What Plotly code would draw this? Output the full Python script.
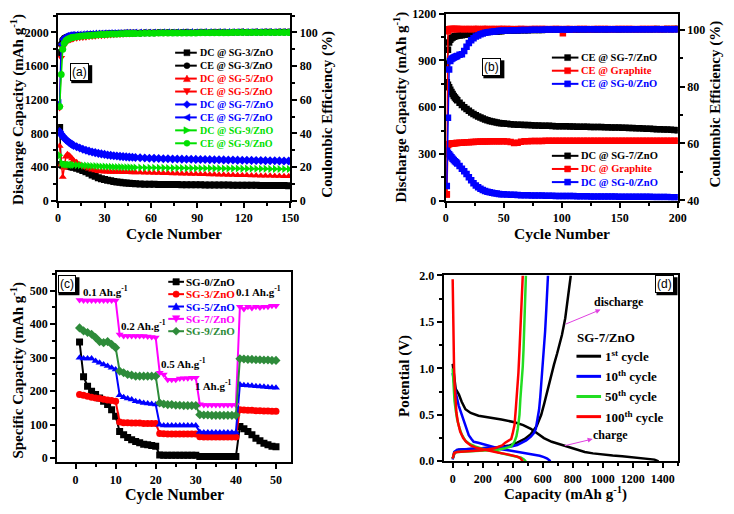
import plotly.graph_objects as go

W, H = 734, 514
SERIF = "Liberation Serif"
SANS = "Liberation Sans"

# ---------------- Panel (a) data ----------------
cyc_a = list(range(1, 11)) + list(range(12, 51, 2)) + list(range(53, 150, 3))
dc_sg3_a = [870,430,420,420,418,415,410,405,400,395,
            385,372,358,342,325,305,288,272,260,250,242,235,228,222,217,212,208,205,202,199,
            196,195,194,193,192,192,191,190,190,189,188,188,187,187,186,186,185,185,184,184,
            183,183,182,182,181,181,180,180,179,179,178,178,177]
ce_sg3_a = [88,93,95.5,96.5,97,97.3,97.6,97.8,98,98.1,
            98.2,98.3,98.4,98.5,98.6,98.7,98.8,98.9,99,99.1,99.2,99.3,99.3,99.4,99.5,99.5,99.6,99.6,99.7,99.7,
            99.7,99.8,99.8,99.8,99.9,99.9,99.9,100,100,100,100.1,100,100,100.1,100.1,100,100.1,100.1,100.1,100,
            100.1,100.1,100.2,100.1,100.1,100.2,100.1,100.2,100.2,100.1,100.2,100.2,100.2]
dc_sg5_a = [650,430,280,390,520,550,540,520,500,480,
            455,430,410,392,378,366,357,350,346,343,342,341,340,340,339,338,337,336,335,334,
            333,331,330,328,327,325,324,322,321,319,318,316,315,313,312,310,309,307,306,305,
            303,302,301,300,299,298,296,295,294,293,292,290,289]
ce_sg5_a = [55,85,91,93,94,94.8,95.3,95.7,96,96.2,
            96.5,96.8,97,97.2,97.4,97.6,97.8,98,98.1,98.2,98.4,98.5,98.6,98.7,98.8,98.9,99,99.1,99.2,99.3,
            99.4,99.5,99.5,99.6,99.6,99.7,99.7,99.8,99.8,99.8,99.9,99.9,99.9,99.9,100,100,100,100,100,100.1,
            100,100.1,100.1,100,100.1,100.1,100.1,100.1,100.2,100.1,100.1,100.2,100.2]
dc_sg7_a = [820,790,765,745,725,708,693,680,668,657,
            640,625,610,598,588,578,570,562,555,549,543,538,534,530,526,523,520,517,515,512,
            509,506,504,502,500,498,497,495,494,493,492,491,490,489,488,487,486,485,484,483,
            482,481,480,479,478,477,476,475,474,473,472,471,470]
ce_sg7_a = [58,93,96,97,97.6,98,98.2,98.4,98.5,98.6,
            98.7,98.8,98.9,99,99.1,99.2,99.3,99.4,99.4,99.5,99.5,99.6,99.6,99.7,99.7,99.7,99.8,99.8,99.8,99.9,
            99.9,99.9,100,100,100,100.1,100.1,100,100.1,100.1,100.1,100.2,100.1,100.1,100.2,100.2,100.1,100.2,100.2,100.2,
            100.2,100.3,100.2,100.2,100.3,100.2,100.3,100.3,100.2,100.3,100.3,100.3,100.3]
dc_sg9_a = [540,450,435,430,428,428,427,426,425,424,
            422,420,418,416,414,412,410,408,406,404,402,401,400,399,398,397,396,395,394,393,
            392,391,391,390,390,389,388,388,387,387,386,386,385,385,384,384,383,383,382,382,
            381,381,380,380,379,379,378,378,377,377,376,376,375]
ce_sg9_a = [56,75,90,93.5,95,95.8,96.3,96.7,97,97.2,
            97.5,97.7,97.9,98.1,98.2,98.3,98.5,98.6,98.7,98.8,98.9,99,99,99.1,99.2,99.2,99.3,99.3,99.4,99.4,
            99.4,99.5,99.5,99.5,99.6,99.6,99.6,99.6,99.7,99.7,99.7,99.7,99.7,99.8,99.8,99.8,99.8,99.8,99.8,99.8,
            99.9,99.9,99.9,99.9,99.9,99.9,99.9,99.9,99.9,99.9,99.9,99.9,99.9]

# ---------------- Panel (b) data ----------------
cyc_b = list(range(1, 11)) + list(range(12, 51, 2)) + list(range(53, 201, 3))
ce_sg7_b = [88,93,95.5,96.5,97,97.3,97.5,97.7,97.8,97.9,
            98,98.1,98.2,98.3,98.4,98.5,98.6,98.7,98.8,98.9,99,99.1,99.2,99.3,99.3,99.4,99.4,99.5,99.5,99.6,
            99.6,99.7,99.7,99.7,99.8,99.8,99.8,99.9,99.9,99.9,99.9,100,100,100,100,100,100,100,100.1,100.1,
            100,100.1,100.1,100.1,100.1,100.1,100.1,100.2,100.1,100.1,100.2,100.2,100.1,100.2,100.2,100.2,100.2,100.2,100.2,100.2,
            100.2,100.2,100.2,100.3,100.2,100.2,100.3,100.2,100.3,100.3]
ce_gr_b = [42,99.5,100.2,100.3,100.3,100.3,100.3,100.3,100.3,100.3,
           100.3,100.3,100.2,100.3,100.3,100.2,100.3,100.3,100.3,100.2,100.3,100.3,100.3,100.2,100.3,100.3,100.2,100.3,100.3,100.3,
           100.3,100.3,100.2,100.3,100.3,100.3,100.2,100.3,100.3,100.3,100.3,100.3,100.2,100.3,100.3,100.3,98.8,100.3,100.3,100.2,
           100.3,100.3,100.3,100.3,100.2,100.3,100.3,100.3,100.3,100.3,100.2,100.3,100.3,100.3,100.3,100.3,100.3,100.2,100.3,100.3,
           100.3,100.3,100.3,100.3,100.2,100.3,100.3,100.3,100.3,100.3]
ce_sg0_b = [45,69,86,89,89.7,90,90.2,90.4,90.6,90.8,
            91.2,91.4,92.5,94,95.3,96.3,97,97.6,98,98.4,98.7,98.9,99.1,99.2,99.3,99.4,99.5,99.6,99.6,99.7,
            99.7,99.8,99.8,99.8,99.9,99.9,99.9,100,100,100,100,100.1,100.1,100.1,100.1,100.1,100.1,100.1,100.1,100.2,
            100.2,100.2,100.2,100.2,100.2,100.2,100.2,100.2,100.2,100.2,100.2,100.2,100.2,100.2,100.2,100.2,100.2,100.2,100.2,100.2,
            100.2,100.2,100.2,100.2,100.2,100.2,100.2,100.2,100.2,100.2]
dc_sg7_b = [760,745,728,712,698,684,672,662,652,644,
            628,614,600,588,577,566,556,548,540,533,527,521,516,512,508,505,502,499,497,495,
            493,491,489,488,487,486,485,484,483,482,481,480,480,479,478,478,477,477,476,476,
            475,475,474,474,473,473,472,472,471,471,470,470,469,468,468,467,466,465,464,463,
            462,461,460,459,458,457,456,455,454,452]
dc_gr_b = [40,355,362,365,366,367,368,369,370,370,
           371,372,373,374,375,376,377,378,378,379,379,380,380,381,381,381,382,382,382,382,
           380,376,370,372,378,381,382,383,383,383,383,384,384,384,384,384,384,385,385,385,
           385,385,385,385,385,385,385,385,385,385,385,385,385,385,385,385,385,385,385,385,
           385,385,385,385,385,385,385,385,385,385]
dc_sg0_b = [320,308,298,288,278,268,260,253,246,238,
            222,205,188,170,150,130,112,97,85,76,68,62,57,53,50,47,45,43,41,40,
            39,38,37,36,35,34,34,33,33,32,32,31,31,31,30,30,30,29,29,29,
            28,28,28,28,27,27,27,27,26,26,26,26,25,25,25,25,25,24,24,24,
            24,24,23,23,23,23,23,22,22,22]

# ---------------- Panel (c) data ----------------
cyc_c = list(range(1, 51))
sc_sg0 = [347,243,215,200,190,180,170,160,145,125, 80,70,62,55,50,46,42,40,38,36,
          10,9,9,9,9,9,9,9,9,9, 5,5,5,5,5,5,5,5,5,5, 95,88,80,70,60,52,45,40,36,34]
sc_sg3 = [190,188,185,182,180,178,176,174,172,170, 108,106,106,105,105,105,104,104,104,104,
          74,73,72,72,72,72,72,72,72,72, 64,63,63,63,63,63,63,63,63,63, 145,144,143,143,142,142,141,141,140,140]
sc_sg5 = [300,298,298,298,290,285,280,275,270,265, 188,182,178,175,170,168,165,163,162,160,
          100,98,98,98,98,98,98,98,98,98, 78,77,77,77,77,77,77,77,77,77, 220,218,217,216,215,214,213,212,211,210]
sc_sg7 = [472,471,471,471,471,471,471,471,471,471, 369,365,365,365,365,365,365,363,362,360,
          255,250,234,234,234,238,239,239,240,240, 161,159,159,159,159,159,159,159,159,159,
          452,445,452,448,452,450,452,452,455,455]
sc_sg9 = [389,380,375,370,360,348,345,348,340,330, 260,255,250,248,245,245,245,245,245,245,
          165,162,160,160,158,158,157,157,157,157, 130,129,129,128,128,128,128,128,128,128,
          297,296,295,295,294,294,293,293,292,292]
rate_labels = ["0.1 Ah.g<sup>-1</sup>", "0.2 Ah.g<sup>-1</sup>", "0.5 Ah.g<sup>-1</sup>",
               "1 Ah.g<sup>-1</sup>", "0.1 Ah.g<sup>-1</sup>"]

# ---------------- Panel (d) data ----------------
d1_cap = [0,8,20,41,60,85,120,172,250,325,412,470,521,565,608,660,717,770,826,880,935,1000,1066,1130,1197,1250,1306,1345,1372]
d1_v = [1.05,0.92,0.78,0.72,0.64,0.56,0.52,0.49,0.47,0.45,0.42,0.39,0.35,0.30,0.25,0.21,0.18,0.15,0.125,0.10,0.085,0.072,0.063,0.055,0.045,0.038,0.03,0.018,0.0]
c1_cap = [0,15,40,100,200,300,380,430,480,520,560,590,610,630,652,675,696,715,728,750,762,772,787]
c1_v = [0.03,0.10,0.125,0.13,0.14,0.15,0.17,0.20,0.24,0.29,0.38,0.50,0.62,0.75,0.91,1.04,1.16,1.28,1.36,1.54,1.68,1.82,2.0]
d10_cap = [0,10,20,40,63,85,107,125,140,170,216,270,325,380,434,490,543,580,608,630,652]
d10_v = [0.95,0.82,0.74,0.60,0.49,0.38,0.28,0.24,0.21,0.20,0.18,0.155,0.13,0.115,0.10,0.085,0.073,0.06,0.045,0.03,0.0]
c10_cap = [0,10,30,80,150,216,300,390,430,456,490,521,540,554,565,576,584,591,600,608,616,624,630,635]
c10_v = [0.02,0.10,0.125,0.13,0.135,0.14,0.15,0.16,0.175,0.195,0.225,0.265,0.30,0.35,0.45,0.56,0.70,0.84,1.0,1.19,1.40,1.64,1.82,2.0]
d50_cap = [0,5,12,20,30,45,60,85,110,150,216,281,325,370,412,440,456,475,488]
d50_v = [1.0,0.80,0.65,0.55,0.45,0.36,0.29,0.22,0.19,0.16,0.125,0.11,0.085,0.07,0.056,0.045,0.038,0.02,0.0]
c50_cap = [0,10,30,100,200,300,350,390,412,425,434,445,451,460,467,472,477,482,488]
c50_v = [0.03,0.09,0.10,0.105,0.11,0.125,0.14,0.16,0.21,0.27,0.35,0.50,0.67,0.85,1.02,1.20,1.43,1.70,2.0]
d100_cap = [0,2,5,9,13,18,25,35,50,70,90,120,150,200,250,300,350,400,430,450,467]
d100_v = [1.96,1.60,1.30,1.02,0.82,0.67,0.52,0.42,0.32,0.25,0.21,0.17,0.15,0.13,0.11,0.095,0.08,0.065,0.05,0.035,0.0]
c100_cap = [0,10,30,100,200,280,330,350,368,380,390,400,412,420,430,438,445,451,456,462,467]
c100_v = [0.03,0.09,0.10,0.105,0.12,0.14,0.17,0.20,0.22,0.23,0.24,0.30,0.39,0.55,0.74,0.95,1.19,1.42,1.64,1.85,2.0]

# ---------------- colours ----------------
BLACK, RED, BLUE, GREEN = "#000000", "#ff0000", "#0000ff", "#00e000"
MAG, DKGREEN = "#ff00ff", "#2e8b3a"
DGREEN = "#22dd22"

fig = go.Figure()

def sc(x, y, color, symbol, xa, ya, size=5, lw=1.5, name=""):
    fig.add_trace(go.Scatter(x=x, y=y, mode="lines+markers", name=name,
                             line=dict(color=color, width=lw),
                             marker=dict(symbol=symbol, size=size, color=color,
                                         line=dict(width=0)),
                             xaxis=xa, yaxis=ya, showlegend=False))

# panel (a)
a_series = [
    ("DC @ SG-3/ZnO", dc_sg3_a, BLACK, "square", "y"),
    ("CE @ SG-3/ZnO", ce_sg3_a, BLACK, "circle", "y2"),
    ("DC @ SG-5/ZnO", dc_sg5_a, RED, "triangle-up", "y"),
    ("CE @ SG-5/ZnO", ce_sg5_a, RED, "triangle-down", "y2"),
    ("DC @ SG-7/ZnO", dc_sg7_a, BLUE, "diamond", "y"),
    ("CE @ SG-7/ZnO", ce_sg7_a, BLUE, "triangle-left", "y2"),
    ("DC @ SG-9/ZnO", dc_sg9_a, GREEN, "triangle-right", "y"),
    ("CE @ SG-9/ZnO", ce_sg9_a, GREEN, "circle", "y2"),
]
for nm, vals, col, sym, ya in a_series:
    sc(cyc_a, vals, col, sym, "x", ya, size=7, name=nm)

# panel (b)
b_ce = [("CE @ SG-7/ZnO", ce_sg7_b, BLACK), ("CE @ Graphite", ce_gr_b, RED), ("CE @ SG-0/ZnO", ce_sg0_b, BLUE)]
b_dc = [("DC @ SG-7/ZnO", dc_sg7_b, BLACK), ("DC @ Graphite", dc_gr_b, RED), ("DC @ SG-0/ZnO", dc_sg0_b, BLUE)]
for nm, vals, col in b_dc:
    sc(cyc_b, vals, col, "square", "x2", "y3", size=6.5, name=nm)
for nm, vals, col in b_ce:
    sc(cyc_b, vals, col, "square", "x2", "y4", size=6.5, name=nm)

# panel (c)
c_series = [("SG-0/ZnO", sc_sg0, BLACK, "square"), ("SG-3/ZnO", sc_sg3, RED, "circle"),
            ("SG-5/ZnO", sc_sg5, BLUE, "triangle-up"), ("SG-7/ZnO", sc_sg7, MAG, "triangle-down"),
            ("SG-9/ZnO", sc_sg9, DKGREEN, "diamond")]
for nm, vals, col, sym in c_series:
    sc(cyc_c, vals, col, sym, "x3", "y5", size=7, lw=2, name=nm)

# panel (d)
d_series = [("1<sup>st</sup> cycle", d1_cap, d1_v, c1_cap, c1_v, BLACK),
            ("10<sup>th</sup> cycle", d10_cap, d10_v, c10_cap, c10_v, BLUE),
            ("50<sup>th</sup> cycle", d50_cap, d50_v, c50_cap, c50_v, DGREEN),
            ("100<sup>th</sup> cycle", d100_cap, d100_v, c100_cap, c100_v, RED)]
for nm, dc_, dv, cc_, cv, col in d_series:
    fig.add_trace(go.Scatter(x=dc_ + [None] + cc_, y=dv + [None] + cv, mode="lines",
                             line=dict(color=col, width=2.5), xaxis="x4", yaxis="y6",
                             showlegend=False, connectgaps=False, name=nm))

# ---------------- axes ----------------
def ax(**kw):
    d = dict(showline=True, linewidth=2, linecolor="black", ticks="outside", ticklen=5,
             tickwidth=1.5, tickcolor="black", showgrid=False, zeroline=False,
             tickfont=dict(family=SERIF, size=12, color="black", weight="bold"))
    d.update(kw)
    return d

def mn(dt, t0=0, where="outside", ln=3):
    return dict(ticks=where, ticklen=ln, tickwidth=1.5, tickcolor="black", dtick=dt, tick0=t0, showgrid=False)

fig.update_layout(
    width=W, height=H, margin=dict(l=0, r=0, t=0, b=0), autosize=False,
    paper_bgcolor="white", plot_bgcolor="white", showlegend=False,
    xaxis=ax(domain=[56/W, 292/W], range=[0, 150], dtick=30, minor=mn(15), anchor="y", mirror=True),
    yaxis=ax(domain=[1-199/H, 1-8/H], range=[0, 2210], dtick=400, minor=mn(200), anchor="x"),
    yaxis2=ax(overlaying="y", side="right", anchor="x", range=[0, 110.5], dtick=20, minor=mn(10)),
    xaxis2=ax(domain=[450/W, 686/W], range=[0, 200], dtick=50, minor=mn(25), anchor="y3", mirror=True),
    yaxis3=ax(domain=[1-199/H, 1-7/H], range=[0, 1200], dtick=300, minor=mn(150), anchor="x2"),
    yaxis4=ax(overlaying="y3", side="right", anchor="x2", range=[39.9, 105.6], tick0=40, dtick=20, minor=mn(10, 40)),
    xaxis3=ax(domain=[55/W, 293/W], range=[-4.6, 53.8], dtick=10, minor=mn(5), anchor="y5", mirror=True),
    yaxis5=ax(domain=[1-468/H, 1-272/H], range=[-12, 557], dtick=100, minor=mn(50), anchor="x3", mirror=True),
    xaxis4=ax(domain=[448/W, 686/W], range=[-60, 1500], dtick=200, minor=mn(100), anchor="y6", mirror=True),
    yaxis6=ax(domain=[1-467/H, 1-276/H], range=[0, 2], dtick=0.5, tickformat=".1f", minor=mn(0.25), anchor="x4", mirror=True),
    # inward ticks on top / right frame of panel (d)
    xaxis5=dict(overlaying="x4", side="top", anchor="y6", range=[-60, 1500], dtick=200,
                ticks="inside", ticklen=4, tickwidth=1.5, tickcolor="black", showticklabels=False,
                showline=False, showgrid=False, zeroline=False, minor=mn(100, 0, "inside", 2)),
    yaxis7=dict(overlaying="y6", side="right", anchor="x4", range=[0, 2], dtick=0.5,
                ticks="inside", ticklen=4, tickwidth=1.5, tickcolor="black", showticklabels=False,
                showline=False, showgrid=False, zeroline=False, minor=mn(0.25, 0, "inside", 2)),
)

# ---------------- annotations / legends ----------------
ann = []

def P(x, y):
    return x / W, 1 - y / H

def text(x, y, t, size, color="black", xanchor="left", angle=0, family=SERIF, bold=True):
    px, py = P(x, y)
    ann.append(dict(x=px, y=py, xref="paper", yref="paper", text=(f"<b>{t}</b>" if bold else t),
                    showarrow=False, xanchor=xanchor, yanchor="middle", textangle=angle,
                    font=dict(family=family, size=size, color=color), borderpad=0))

def leg_line(x0, x1, y, color, w=2):
    fig.add_shape(type="line", xref="paper", yref="paper", x0=x0/W, x1=x1/W,
                  y0=1-y/H, y1=1-y/H, line=dict(color=color, width=w))

def leg_marker(xc, yc, sym, color, r=3):
    xa, ya = P(xc, yc)
    base = dict(xref="paper", yref="paper", xsizemode="pixel", ysizemode="pixel",
                xanchor=xa, yanchor=ya, fillcolor=color, line=dict(color=color, width=0.5))
    if sym == "circle":
        fig.add_shape(type="circle", x0=-r, x1=r, y0=-r, y1=r, **base)
        return
    paths = {
        "square": f"M{-r},{-r}L{r},{-r}L{r},{r}L{-r},{r}Z",
        "triangle-up": f"M0,{r+0.5}L{r+0.5},{-r}L{-r-0.5},{-r}Z",
        "triangle-down": f"M0,{-r-0.5}L{r+0.5},{r}L{-r-0.5},{r}Z",
        "triangle-left": f"M{-r-0.5},0L{r},{r+0.5}L{r},{-r-0.5}Z",
        "triangle-right": f"M{r+0.5},0L{-r},{r+0.5}L{-r},{-r-0.5}Z",
        "diamond": f"M0,{r+0.8}L{r+0.8},0L0,{-r-0.8}L{-r-0.8},0Z",
    }
    fig.add_shape(type="path", path=paths[sym], **base)

# panel (a) legend
for i, (nm, vals, col, sym, ya) in enumerate(a_series):
    y = 47 + i * 13.3
    leg_line(175, 197, y, col, 2)
    leg_marker(187, y, sym, col, 3)
    text(199, y, nm, 10, col)

# panel (b) legends
for i, (nm, vals, col) in enumerate(b_ce):
    y = 52 + i * 13.5
    leg_line(558, 585, y, col, 2)
    leg_marker(574, y, "square", col, 3)
    text(587, y, nm, 10.5, col)
for i, (nm, vals, col) in enumerate(b_dc):
    y = 153 + i * 13.5
    leg_line(558, 585, y, col, 2)
    leg_marker(574, y, "square", col, 3)
    text(587, y, nm, 10.5, col)

# panel (c) legend
for i, (nm, vals, col, sym) in enumerate(c_series):
    y = 282.5 + i * 12.7
    leg_line(168, 184, y, col, 2)
    leg_marker(176, y, sym, col, 3.2)
    text(185, y, nm, 11, col)

# panel (c) rate labels
for (x, y), t in zip([(104, 292), (143, 327), (183, 366), (214, 389), (260, 292)], rate_labels):
    text(x, y, t, 11, "black", xanchor="center")

# panel (d) legend
text(583, 340, "SG-7/ZnO", 13)
for i, (nm, dc_, dv, cc_, cv, col) in enumerate(d_series):
    y = 359 + i * 20.7
    leg_line(583, 608, y, col, 3)
    text(611, y, nm, 13)

# panel (d) labels with arrows pointing to the text
for (tx, ty), (cx, cy), t in [((625, 304), (572, 326), "discharge"), ((617, 440), (571, 451), "charge")]:
    px, py = P(cx, cy)
    ann.append(dict(x=px, y=py, xref="paper", yref="paper", text=f"<b>{t}</b>", showarrow=True,
                    ax=tx - cx, ay=ty - cy, arrowcolor="#e040e0", arrowwidth=1,
                    arrowhead=2, arrowsize=1, arrowside="start", startarrowhead=2, startarrowsize=1,
                    font=dict(family=SERIF, size=12, color="black"), borderpad=0))

# panel labels with shadow boxes
for (x, y), t in [((78, 67), "(a)"), ((497, 62), "(b)"), ((65, 285), "(c)"), ((673, 285), "(d)")]:
    xa, ya = P(x, y)
    fig.add_shape(type="rect", xref="paper", yref="paper", xsizemode="pixel", ysizemode="pixel",
                  xanchor=xa, yanchor=ya, x0=-8.5, x1=12.5, y0=-11, y1=7,
                  fillcolor="black", line=dict(width=0))
    ann.append(dict(x=xa, y=ya, xref="paper", yref="paper", text=t, showarrow=False,
                    xanchor="center", yanchor="middle", bgcolor="white", bordercolor="black",
                    borderwidth=1, borderpad=1, font=dict(family=SANS, size=12, color="black")))

# axis titles
cap_unit = "(mAh g<sup>-1</sup>)"
text(14, 105, f"Discharge Capacity {cap_unit}", 15, xanchor="center", angle=-90)
text(329, 110, "Coulombic Efficiency (%)", 15, xanchor="center", angle=-90)
text(174, 233, "Cycle Number", 15.5, xanchor="center")
text(404, 103, f"Discharge Capacity {cap_unit}", 15, xanchor="center", angle=-90)
text(724, 100, "Coulombic Efficiency (%)", 15, xanchor="center", angle=-90)
text(568, 233, "Cycle Number", 15.5, xanchor="center")
text(15, 373, f"Specific Capacity {cap_unit}", 15, xanchor="center", angle=-90)
text(174, 502, "Cycle Number", 16, xanchor="center")
text(408, 379, "Potential (V)", 15, xanchor="center", angle=-90)
text(572, 500, f"Capacity {cap_unit}", 15, xanchor="center")

fig.update_layout(annotations=ann)
fig.write_html("out.html")
